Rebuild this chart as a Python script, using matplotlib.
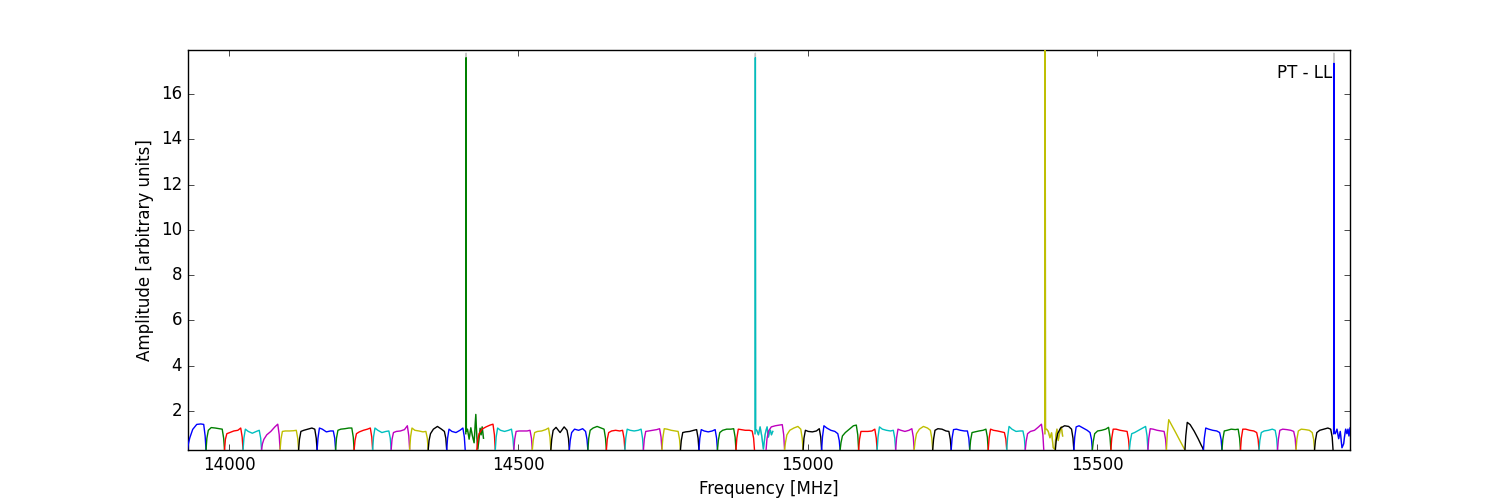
import numpy as np
import matplotlib
matplotlib.use('Agg')
import matplotlib.pyplot as plt

# Subband layout [MHz]
BAND_WIDTH = 32
GROUP_STARTS = [13928, 14428, 14928, 15428]   # first regular subband of each group
NOISY_STARTS = [14409, 14909, 15410, 15909]   # subband with the strong spike
BAND_OFFSETS = [0, 1.5, 4, 9, 16, 23, 28, 30.5, 32]
NOISY_OFFSETS = [0, 0.5, 1.0, 2.9, 5.8, 8.7, 11.5, 14.4, 17.3, 19, 20.8, 23, 24.8, 26.5, 28.3, 30.6]
COLORS = ['b', 'g', 'r', 'c', 'm', 'y', 'k']

# Bandpass amplitudes of the regular subbands, one row per subband
GROUP_A = [
    [0.28, 0.55, 0.82, 1.19, 1.41, 1.43, 1.41, 0.90, 0.28],
    [0.28, 0.80, 1.15, 1.27, 1.25, 1.22, 1.20, 0.80, 0.28],
    [0.28, 0.75, 1.00, 1.05, 1.12, 1.15, 1.25, 0.85, 0.28],
    [0.28, 0.80, 1.20, 1.10, 1.02, 1.10, 1.15, 0.80, 0.28],
    [0.28, 0.55, 0.75, 0.95, 1.10, 1.30, 1.42, 0.95, 0.28],
    [0.28, 0.75, 1.10, 1.12, 1.12, 1.13, 1.15, 0.80, 0.28],
    [0.28, 0.75, 1.10, 1.15, 1.20, 1.25, 1.20, 0.80, 0.28],
    [0.28, 0.80, 1.25, 1.20, 1.08, 1.12, 1.12, 0.80, 0.28],
    [0.28, 0.80, 1.15, 1.20, 1.22, 1.25, 1.25, 0.85, 0.28],
    [0.28, 0.70, 1.00, 1.08, 1.15, 1.20, 1.25, 0.85, 0.28],
    [0.28, 0.85, 1.25, 1.15, 1.05, 1.10, 1.12, 0.80, 0.28],
    [0.28, 0.75, 1.05, 1.10, 1.12, 1.18, 1.35, 0.90, 0.28],
    [0.28, 0.85, 1.25, 1.15, 1.12, 1.08, 1.10, 0.80, 0.28],
    [0.28, 0.70, 1.00, 1.20, 1.32, 1.20, 1.10, 0.80, 0.28],
    [0.28, 0.80, 1.20, 1.10, 1.05, 1.15, 1.25, 0.85, 0.28],
]
GROUP_B = [
    [0.28, 0.70, 1.00, 1.20, 1.30, 1.38, 1.42, 0.95, 0.28],
    [0.28, 0.85, 1.25, 1.15, 1.10, 1.15, 1.20, 0.80, 0.28],
    [0.28, 0.75, 1.10, 1.12, 1.12, 1.12, 1.15, 0.80, 0.28],
    [0.28, 0.70, 1.05, 1.10, 1.12, 1.18, 1.25, 0.85, 0.28],
    [0.28, 0.75, 1.15, 1.28, 1.05, 1.30, 1.15, 0.80, 0.28],
    [0.28, 0.70, 1.05, 1.20, 1.15, 1.22, 1.10, 0.75, 0.28],
    [0.28, 0.80, 1.15, 1.25, 1.32, 1.25, 1.20, 0.80, 0.28],
    [0.28, 0.75, 1.05, 1.12, 1.15, 1.12, 1.15, 0.80, 0.28],
    [0.28, 0.80, 1.20, 1.15, 1.12, 1.15, 1.20, 0.80, 0.28],
    [0.28, 0.75, 1.10, 1.12, 1.15, 1.18, 1.22, 0.85, 0.28],
    [0.28, 0.80, 1.22, 1.20, 1.15, 1.12, 1.10, 0.75, 0.28],
    [0.28, 0.70, 1.05, 1.08, 1.10, 1.15, 1.18, 0.80, 0.28],
    [0.28, 0.80, 1.18, 1.12, 1.08, 1.12, 1.18, 0.80, 0.28],
    [0.28, 0.70, 1.05, 1.15, 1.20, 1.20, 1.22, 0.85, 0.28],
    [0.28, 0.80, 1.20, 1.18, 1.15, 1.15, 1.12, 0.80, 0.28],
]
GROUP_C = [
    [0.28, 0.75, 1.10, 1.30, 1.35, 1.38, 1.40, 0.95, 0.28],
    [0.28, 0.60, 0.95, 1.15, 1.25, 1.32, 1.20, 0.80, 0.28],
    [0.28, 0.80, 1.15, 1.10, 1.08, 1.12, 1.22, 0.85, 0.28],
    [0.28, 0.85, 1.35, 1.25, 1.15, 1.10, 1.00, 0.70, 0.28],
    [0.28, 0.60, 0.90, 1.05, 1.20, 1.35, 1.38, 0.95, 0.28],
    [0.28, 0.75, 1.10, 1.10, 1.10, 1.12, 1.20, 0.80, 0.28],
    [0.28, 0.85, 1.30, 1.20, 1.15, 1.12, 1.15, 0.80, 0.28],
    [0.28, 0.80, 1.20, 1.15, 1.10, 1.15, 1.22, 0.85, 0.28],
    [0.28, 0.65, 1.00, 1.20, 1.32, 1.25, 1.15, 0.80, 0.28],
    [0.28, 0.75, 1.15, 1.22, 1.20, 1.12, 1.10, 0.75, 0.28],
    [0.28, 0.80, 1.18, 1.20, 1.15, 1.12, 1.12, 0.80, 0.28],
    [0.28, 0.70, 1.05, 1.08, 1.12, 1.15, 1.20, 0.85, 0.28],
    [0.28, 0.80, 1.20, 1.15, 1.12, 1.08, 1.05, 0.75, 0.28],
    [0.28, 0.85, 1.32, 1.20, 1.10, 1.12, 1.12, 0.80, 0.28],
    [0.28, 0.65, 1.00, 1.10, 1.15, 1.30, 1.42, 0.95, 0.28],
]
GROUP_D = [
    [0.28, 0.70, 1.00, 1.25, 1.35, 1.32, 1.20, 0.80, 0.28],
    [0.28, 0.85, 1.30, 1.35, 1.25, 1.15, 1.05, 0.75, 0.28],
    [0.28, 0.65, 1.00, 1.12, 1.15, 1.20, 1.28, 0.85, 0.28],
    [0.28, 0.80, 1.20, 1.20, 1.15, 1.12, 1.10, 0.75, 0.28],
    [0.28, 0.65, 1.00, 1.05, 1.15, 1.25, 1.32, 0.90, 0.28],
    [0.28, 0.80, 1.22, 1.20, 1.15, 1.12, 1.10, 0.75, 0.28],
    [0.28, 1.00, 1.62, 1.38, 1.05, 0.71, 0.47, 0.35, 0.28],
    [0.28, 0.90, 1.50, 1.40, 1.11, 0.77, 0.50, 0.38, 0.28],
    [0.28, 0.80, 1.25, 1.20, 1.15, 1.12, 1.05, 0.75, 0.28],
    [0.28, 0.75, 1.12, 1.15, 1.20, 1.18, 1.20, 0.80, 0.28],
    [0.28, 0.80, 1.20, 1.20, 1.15, 1.12, 1.05, 0.75, 0.28],
    [0.28, 0.70, 1.05, 1.12, 1.15, 1.20, 1.15, 0.80, 0.28],
    [0.28, 0.75, 1.15, 1.20, 1.18, 1.15, 1.10, 0.80, 0.28],
    [0.28, 0.75, 1.12, 1.20, 1.18, 1.15, 1.05, 0.75, 0.28],
    [0.28, 0.70, 1.05, 1.15, 1.20, 1.25, 1.20, 0.85, 0.28],
]
GROUPS = [GROUP_A, GROUP_B, GROUP_C, GROUP_D]

# Subbands containing the spike (last one is cut at the end of the data)
NOISY_G = [1.0, 17.6, 1.1, 1.2, 0.76, 1.26, 0.9, 0.6, 1.85, 0.9, 0.32, 0.8, 1.24, 0.95, 1.3, 0.8]
NOISY_C = [1.0, 17.6, 1.2, 1.15, 0.95, 1.3, 0.9, 0.32, 0.95, 1.15, 1.3, 0.85, 1.05, 1.15, 0.95, 1.1]
NOISY_Y = [1.0, 17.94, 1.2, 1.2, 1.1, 0.82, 1.04, 0.38, 0.3, 0.95, 1.2, 0.7, 0.95, 1.15, 1.3, 0.9]
NOISY_B = [1.0, 17.35, 1.1, 1.0, 1.2, 0.78, 1.1, 0.38, 0.55, 0.9, 1.2, 1.0, 1.2, 0.9, 1.25]
NOISY = [NOISY_G, NOISY_C, NOISY_Y, NOISY_B]
GRAY_SPIKES = [17.8, 17.8, 17.94, 17.8]

plt.style.use('classic')
fig = plt.figure(figsize=(15, 5), dpi=100)
ax = fig.add_subplot(111)

all_x, all_y = [], []
idx = 0
for g in range(4):
    for k, row in enumerate(GROUPS[g]):
        x = GROUP_STARTS[g] + k * BAND_WIDTH + np.array(BAND_OFFSETS)
        ax.plot(x, row, color=COLORS[idx % 7], lw=1.0, zorder=3)
        all_x.extend(x); all_y.extend(row)
        idx += 1
    vals = NOISY[g]
    x = NOISY_STARTS[g] + np.array(NOISY_OFFSETS[:len(vals)])
    gray = list(vals)
    gray[1] = GRAY_SPIKES[g]
    ax.plot(x, gray, color='0.78', lw=1.0, zorder=2)
    ax.plot(x, vals, color=COLORS[idx % 7], lw=1.0, zorder=3)
    all_x.extend(x); all_y.extend(gray)
    idx += 1

ax.set_xlim(min(all_x), max(all_x))
ax.set_ylim(min(all_y), max(all_y))
ax.ticklabel_format(useOffset=False)
ax.set_yticks(np.arange(2, 17, 2))
ax.set_xlabel('Frequency [MHz]')
ax.set_ylabel('Amplitude [arbitrary units]')
ax.text(0.985, 0.965, 'PT - LL', ha='right', va='top', transform=ax.transAxes)

fig.savefig('out.png', dpi=100)
